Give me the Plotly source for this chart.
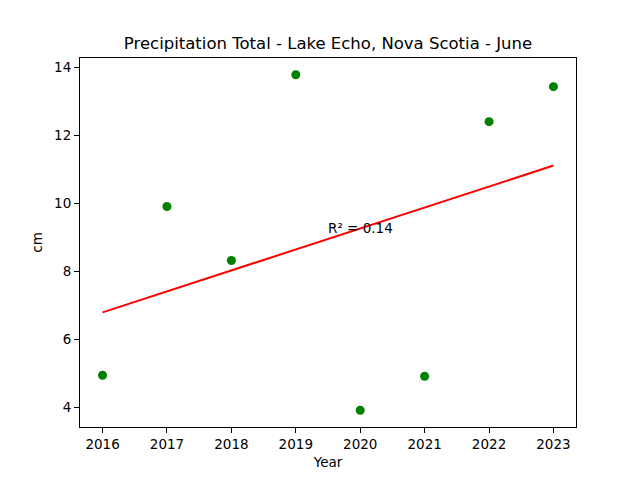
import numpy as np
import plotly.graph_objects as go

years = [2016, 2017, 2018, 2019, 2020, 2021, 2022, 2023]
precip_cm = [4.94, 9.91, 8.32, 13.79, 3.91, 4.91, 12.41, 13.44]
x_ticks = [2016, 2017, 2018, 2019, 2020, 2021, 2022, 2023]
y_ticks = [4, 6, 8, 10, 12, 14]

x = np.array(years, dtype=float)
y = np.array(precip_cm)
slope, intercept = np.polyfit(x, y, 1)
fit = slope * x + intercept
r2 = 1 - np.sum((y - fit) ** 2) / np.sum((y - y.mean()) ** 2)

font = "DejaVu Sans, sans-serif"
fig = go.Figure()
fig.add_trace(go.Scatter(x=years, y=precip_cm, mode="markers",
                         marker=dict(color="green", size=9), showlegend=False))
fig.add_trace(go.Scatter(x=years, y=fit, mode="lines",
                         line=dict(color="red", width=2), showlegend=False))
fig.add_annotation(x=2020.0, y=9.27, text=f"R² = {r2:.2f}", showarrow=False,
                   font=dict(family=font, size=13.5, color="black"))

fig.update_layout(
    width=640, height=480,
    margin=dict(l=72, r=72, t=50, b=61),
    plot_bgcolor="white", paper_bgcolor="white",
    font=dict(family=font, size=13.5, color="black"),
    title=dict(text="Precipitation Total - Lake Echo, Nova Scotia - June",
               x=0.5, xanchor="center", y=0.927, yanchor="middle",
               font=dict(family=font, size=16.5, color="black")),
)
xmin, xmax = min(years), max(years)
ymin, ymax = min(precip_cm), max(precip_cm)
fig.update_xaxes(range=[xmin - 0.05 * (xmax - xmin), xmax + 0.05 * (xmax - xmin)],
                 tickvals=x_ticks, ticks="outside", ticklen=5, tickcolor="black",
                 tickfont=dict(size=13.5),
                 showline=True, linecolor="black", linewidth=1, mirror=True,
                 showgrid=False, zeroline=False,
                 title=dict(text="Year", standoff=6, font=dict(size=13.5)))
fig.update_yaxes(range=[ymin - 0.05 * (ymax - ymin), ymax + 0.05 * (ymax - ymin)],
                 tickvals=y_ticks, ticks="outside", ticklen=5, tickcolor="black",
                 tickfont=dict(size=13.5),
                 showline=True, linecolor="black", linewidth=1, mirror=True,
                 showgrid=False, zeroline=False,
                 title=dict(text="cm", standoff=8, font=dict(size=13.5)))
fig.write_html("out.html")
